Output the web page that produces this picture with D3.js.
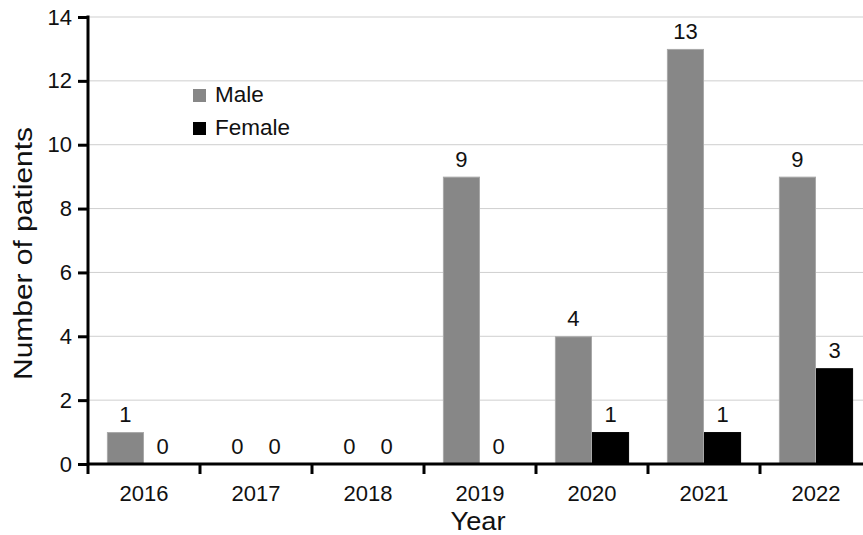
<!DOCTYPE html>
<html>
<head>
<meta charset="utf-8">
<script src="https://cdn.jsdelivr.net/npm/d3@7"></script>
<style>
  body { margin: 0; background: #fff; }
  svg { display: block; font-family: "Liberation Sans", Arial, sans-serif; }
</style>
</head>
<body>
<svg width="863" height="535"></svg>
<script>
const years = ["2016", "2017", "2018", "2019", "2020", "2021", "2022"];
const series = ["Male", "Female"];
const male = [1, 0, 0, 9, 4, 13, 9];
const female = [0, 0, 0, 0, 1, 1, 3];
const yTicks = [0, 2, 4, 6, 8, 10, 12, 14];

const colors = { Male: "#878787", Female: "#000" };
const strokes = { Male: "#a8a8a8", Female: "#000" };
const font = "Liberation Sans, Arial, sans-serif";

const svg = d3.select("svg");
const plotLeft = 88, plotTop = 17, plotBottom = 464, plotRight = 872;

const x = d3.scaleBand().domain(years).range([plotLeft, plotRight]).padding(0);
const xs = d3.scaleBand().domain(series).range([0, x.bandwidth()]).paddingInner(0).paddingOuter(0.51);
const y = d3.scaleLinear().domain([0, 14]).range([plotBottom, plotTop]);

const rows = years.map((yr, i) => ({ year: yr, Male: male[i], Female: female[i] }));

// gridlines
svg.append("g")
  .selectAll("line")
  .data(yTicks.filter((d) => d > 0))
  .join("line")
  .attr("x1", plotLeft)
  .attr("x2", 863)
  .attr("y1", (d) => y(d))
  .attr("y2", (d) => y(d))
  .attr("stroke", "#cfcfcf")
  .attr("stroke-width", 1);

// bars
const groups = svg.append("g")
  .selectAll("g")
  .data(rows)
  .join("g")
  .attr("transform", (d) => `translate(${x(d.year)},0)`);

groups.selectAll("rect")
  .data((d) => series.map((s) => ({ key: s, value: d[s] })).filter((d) => d.value > 0))
  .join("rect")
  .attr("x", (d) => xs(d.key) + 0.5)
  .attr("y", (d) => y(d.value) + 0.5)
  .attr("width", xs.bandwidth() - 1)
  .attr("height", (d) => y(0) - y(d.value) - 0.5)
  .attr("fill", (d) => colors[d.key])
  .attr("stroke", (d) => strokes[d.key])
  .attr("stroke-width", 1);

// value labels
groups.selectAll("text")
  .data((d) => series.map((s) => ({ key: s, value: d[s] })))
  .join("text")
  .attr("x", (d) => xs(d.key) + xs.bandwidth() / 2)
  .attr("y", (d) => y(d.value) - 10)
  .attr("text-anchor", "middle")
  .attr("font-size", "22px")
  .attr("fill", "#111")
  .text((d) => d.value);

// y axis
const yAxis = svg.append("g")
  .attr("transform", `translate(${plotLeft},0)`)
  .call(d3.axisLeft(y).tickValues(yTicks).tickSize(10).tickPadding(6).tickFormat(d3.format("d")));
yAxis.select(".domain").remove();
yAxis.selectAll(".tick line").attr("stroke", "#000").attr("stroke-width", 3);
yAxis.selectAll(".tick text")
  .attr("font-size", "22px")
  .attr("fill", "#111")
  .attr("font-family", font);
yAxis.append("line")
  .attr("x1", 0).attr("x2", 0)
  .attr("y1", plotTop - 1.5)
  .attr("y2", plotBottom + 10)
  .attr("stroke", "#000")
  .attr("stroke-width", 3);

// x axis
const xAxis = svg.append("g")
  .attr("transform", `translate(0,${plotBottom})`)
  .call(d3.axisBottom(x).tickSize(0).tickPadding(21.5));
xAxis.select(".domain").remove();
xAxis.selectAll(".tick text")
  .attr("font-size", "22px")
  .attr("fill", "#111")
  .attr("font-family", font);
xAxis.append("line")
  .attr("x1", plotLeft).attr("x2", 863)
  .attr("y1", 0).attr("y2", 0)
  .attr("stroke", "#000")
  .attr("stroke-width", 3);
xAxis.selectAll(".bound")
  .data(years.slice(1))
  .join("line")
  .attr("class", "bound")
  .attr("x1", (d) => x(d)).attr("x2", (d) => x(d))
  .attr("y1", 0).attr("y2", 10)
  .attr("stroke", "#000")
  .attr("stroke-width", 3);

// axis titles
svg.append("text")
  .attr("x", 478)
  .attr("y", 530)
  .attr("text-anchor", "middle")
  .attr("font-size", "25px")
  .attr("textLength", 55)
  .attr("lengthAdjust", "spacingAndGlyphs")
  .attr("fill", "#111")
  .text("Year");

svg.append("text")
  .attr("transform", "translate(32,253.5) rotate(-90)")
  .attr("text-anchor", "middle")
  .attr("font-size", "26px")
  .attr("textLength", 253)
  .attr("lengthAdjust", "spacingAndGlyphs")
  .attr("fill", "#111")
  .text("Number of patients");

// legend
const legend = svg.append("g").attr("transform", "translate(193,89)");
const li = legend.selectAll("g")
  .data(series)
  .join("g")
  .attr("transform", (d, i) => `translate(0,${i * 33})`);
li.append("rect")
  .attr("width", 13).attr("height", 13)
  .attr("fill", (d) => colors[d]);
li.append("text")
  .attr("x", 22)
  .attr("y", 13)
  .attr("font-size", "22.5px")
  .attr("fill", "#111")
  .text((d) => d);
</script>
</body>
</html>
